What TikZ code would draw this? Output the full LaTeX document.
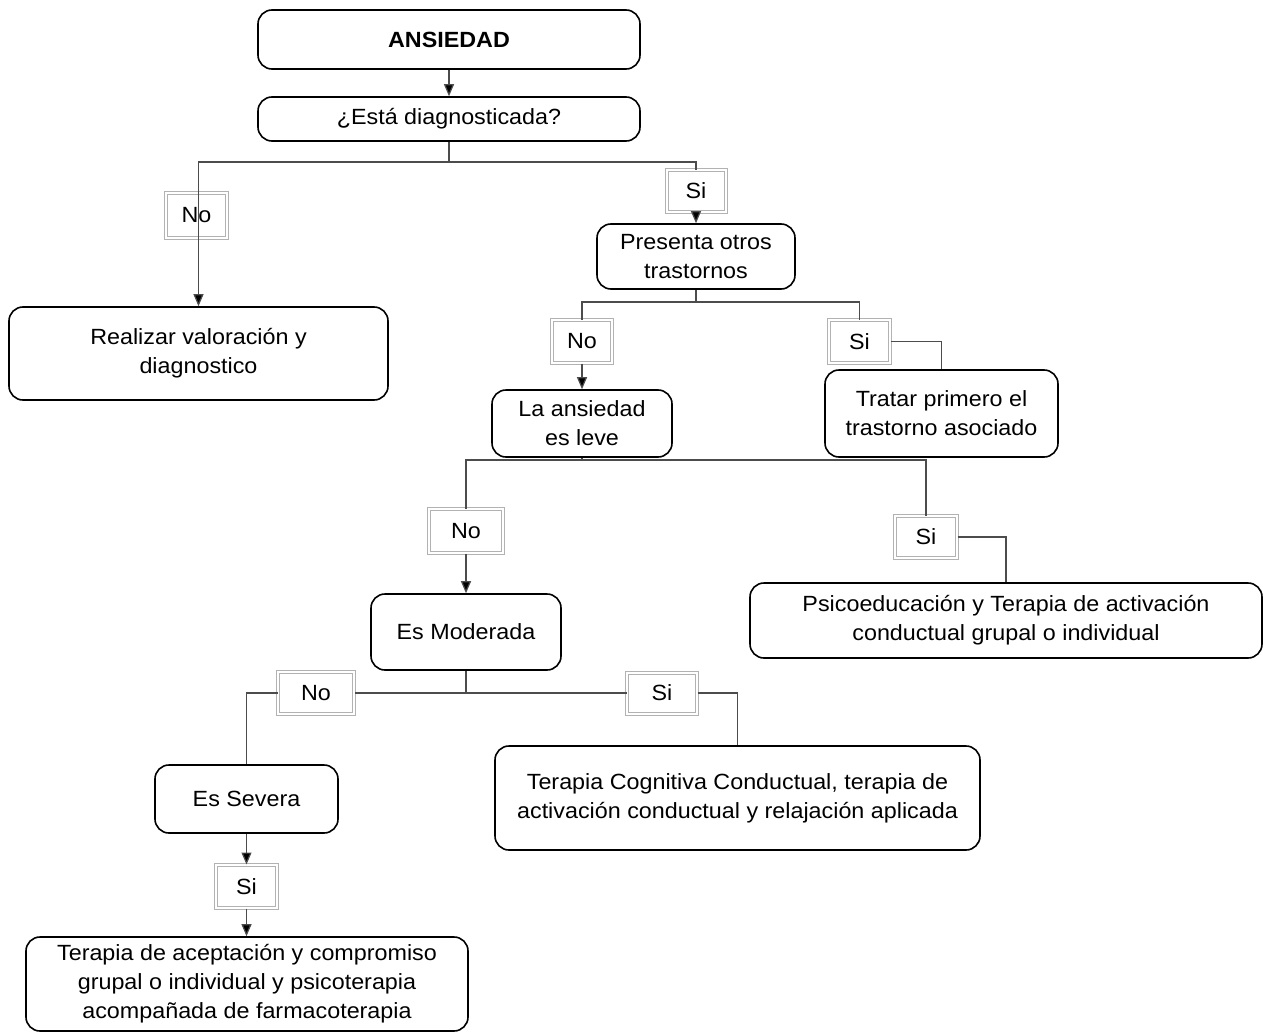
\documentclass[tikz,border=0pt]{standalone}
\usepackage{fontspec}
\setmainfont{Liberation Sans}[FakeStretch=1.06]
\usetikzlibrary{arrows.meta}
\begin{document}
\begin{tikzpicture}[x=1pt,y=-1pt,
  box/.style={draw=black,line width=1.6pt,rounded corners=14pt,align=center,inner sep=0pt,fill=white},
  lbl/.style={draw=black!30,double=white,double distance=2pt,line width=1pt,inner sep=0pt,align=center},
  lblf/.style={lbl,fill=white},
  ln/.style={draw=black!70,line width=1.2pt},
  arr/.style={ln,-{Triangle[length=12pt,width=10pt,fill=black]}},
  font=\fontsize{22}{29}\selectfont]
\useasboundingbox (0,0) rectangle (1263,1033);
% main boxes
\node[box,minimum width=382,minimum height=59] (ans) at (449,39.5) {\bfseries ANSIEDAD};
\node[box,minimum width=382,minimum height=44] (diag) at (449,119) {¿Está diagnosticada?};
\node[box,minimum width=198,minimum height=65] (pres) at (696,256.5) {Presenta otros\\trastornos};
\node[box,minimum width=379,minimum height=93] (real) at (198.5,353.5) {Realizar valoración y\\diagnostico};
\node[box,minimum width=233,minimum height=87] (trat) at (941.5,413.5) {Tratar primero el\\trastorno asociado};
\node[box,minimum width=180,minimum height=67] (leve) at (582,423.5) {La ansiedad\\es leve};
\node[box,minimum width=512,minimum height=75] (psico) at (1006,620.5) {Psicoeducación y Terapia de activación\\conductual grupal o individual};
\node[box,minimum width=190,minimum height=76] (mod) at (466,632) {Es Moderada};
\node[box,minimum width=485,minimum height=104] (tcc) at (737.5,798) {Terapia Cognitiva Conductual, terapia de\\activación conductual y relajación aplicada};
\node[box,minimum width=183,minimum height=68] (sev) at (246.5,799) {Es Severa};
\node[box,minimum width=442,minimum height=94] (act) at (247,984) {Terapia de aceptación y compromiso\\grupal o individual y psicoterapia\\acompañada de farmacoterapia};
% junctions
\coordinate (j1) at (449,162);
\coordinate (j2) at (696,302);
\coordinate (j3) at (582,460);
\coordinate (j4) at (466,693);
% connectors level 1
\draw[arr] (ans) -- (diag);
\draw[ln] (diag.south) -- (j1);
\node[lbl,minimum width=61,minimum height=45] (no1) at (196.5,215.5) {No};
\draw[arr] (j1) -| (real.north);
\node[lblf,minimum width=59,minimum height=42] (si1) at (696,191) {Si};
\draw[ln] (j1) -| (si1.north);
\draw[arr] (si1.south) -- (pres.north);
% level 2
\draw[ln] (pres.south) -- (j2);
\node[lblf,minimum width=60,minimum height=43] (no2) at (582,341.5) {No};
\node[lblf,minimum width=61,minimum height=43] (si2) at (859.5,341.5) {Si};
\draw[ln] (j2) -| (no2.north);
\draw[arr] (no2.south) -- (leve.north);
\draw[ln] (j2) -| (si2.north);
\draw[ln] (si2.east) -| (trat.north);
% level 3
\draw[ln] (leve.south) -- (j3);
\node[lblf,minimum width=74,minimum height=44] (no3) at (466,531) {No};
\node[lblf,minimum width=62,minimum height=42] (si3) at (926,537) {Si};
\draw[ln] (j3) -| (no3.north);
\draw[arr] (no3.south) -- (mod.north);
\draw[ln] (j3) -| (si3.north);
\draw[ln] (si3.east) -| (psico.north);
% level 4
\draw[ln] (mod.south) -- (j4);
\node[lblf,minimum width=76,minimum height=42] (no4) at (316,693) {No};
\node[lblf,minimum width=70,minimum height=41] (si4) at (662,693) {Si};
\draw[ln] (j4) -- (no4.east);
\draw[ln] (no4.west) -| (sev.north);
\draw[ln] (j4) -- (si4.west);
\draw[ln] (si4.east) -| (tcc.north);
% level 5
\node[lblf,minimum width=61,minimum height=43] (si5) at (246.5,886.5) {Si};
\draw[arr] (sev.south) -- (si5.north);
\draw[arr] (si5.south) -- (si5.south |- act.north);
\end{tikzpicture}
\end{document}
